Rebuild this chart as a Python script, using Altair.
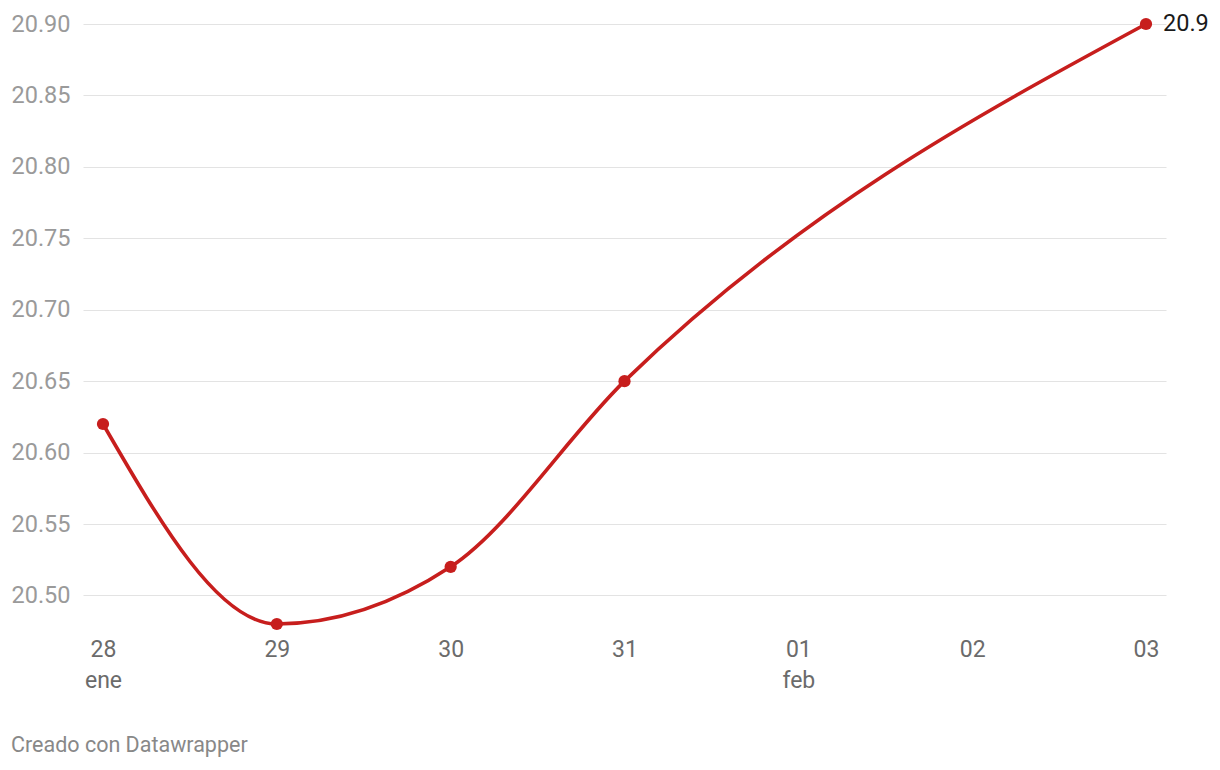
import altair as alt
import pandas as pd

day_index = [0, 1, 2, 3, 6]
values = [20.62, 20.48, 20.52, 20.65, 20.90]
tick_days = [0, 1, 2, 3, 4, 5, 6]
tick_labels = ["28", "29", "30", "31", "01", "02", "03"]
month_labels = {0: "ene", 4: "feb"}
y_ticks = [20.50, 20.55, 20.60, 20.65, 20.70, 20.75, 20.80, 20.85, 20.90]
end_label = "20.9"

df = pd.DataFrame({"d": day_index, "v": values})

parts = []
for d, lab in zip(tick_days, tick_labels):
    if d in month_labels:
        parts.append(f"datum.value == {d} ? ['{lab}', '{month_labels[d]}']")
    else:
        parts.append(f"datum.value == {d} ? '{lab}'")
label_expr = " : ".join(parts) + " : ''"

RED = "#c71e1d"
FONT = "Roboto"

x = alt.X("d:Q",
          scale=alt.Scale(domain=[0, 6], padding=20, nice=False, zero=False),
          axis=alt.Axis(values=tick_days, labelExpr=label_expr, title=None,
                        grid=False, domain=False, ticks=False,
                        labelFont=FONT, labelFontSize=23, labelColor="#6b6b6b",
                        labelPadding=14, labelLineHeight=31, labelAlign="center",
                        labelFlush=False))
y = alt.Y("v:Q",
          scale=alt.Scale(domain=[20.48, 20.90], nice=False, zero=False),
          axis=alt.Axis(values=y_ticks, format=".2f", title=None,
                        grid=True, gridColor="#e3e3e3", gridWidth=1,
                        domain=False, ticks=False,
                        labelFont=FONT, labelFontSize=23.5, labelColor="#9a9a9a",
                        labelAlign="left", labelPadding=72, labelBaseline="middle"))

base = alt.Chart(df)
line = base.mark_line(color=RED, strokeWidth=3.6, interpolate="monotone").encode(x=x, y=y)
pts = base.mark_circle(color=RED, size=150, opacity=1).encode(x="d:Q", y="v:Q")
endtxt = alt.Chart(pd.DataFrame({"d": [day_index[-1]], "v": [values[-1]], "t": [end_label]})).mark_text(
    align="left", baseline="middle", dx=17, font=FONT, fontSize=23.5, color="#1a1a1a"
).encode(x="d:Q", y="v:Q", text="t:N")
credit = alt.Chart(pd.DataFrame({"t": ["Creado con Datawrapper"]})).mark_text(
    align="left", baseline="middle", font=FONT, fontSize=21.5, color="#888888"
).encode(x=alt.value(-72), y=alt.value(722), text="t:N")

chart = alt.layer(line, pts, endtxt, credit).properties(
    width=1083, height=600,
    autosize=alt.AutoSizeParams(type="none"),
    padding={"left": 75, "top": 16, "right": 46, "bottom": 136},
).configure_view(stroke=None)

chart.save("out.html", embed_options={"renderer": "svg", "actions": False})
